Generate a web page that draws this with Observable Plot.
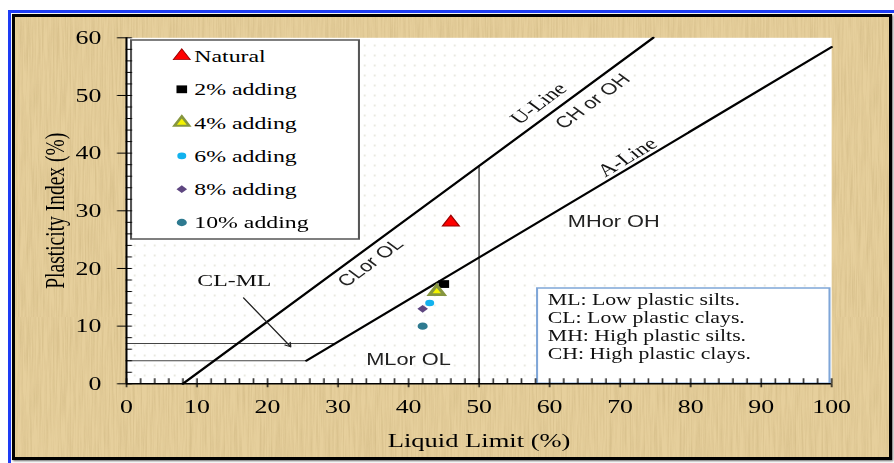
<!DOCTYPE html>
<html><head><meta charset="utf-8">
<script src="https://cdn.jsdelivr.net/npm/d3@7"></script>
<script src="https://cdn.jsdelivr.net/npm/@observablehq/plot@0.6"></script>
<style>
html,body{margin:0;padding:0;background:#fff;width:894px;height:463px;overflow:hidden;}
#blue{position:absolute;left:8px;top:10px;width:886px;height:453px;box-sizing:border-box;border-top:3px solid #1d3cf5;border-left:3px solid #1d3cf5;}
#frame{position:absolute;left:12px;top:14px;width:880px;height:446px;box-sizing:border-box;border:3px solid #000;background-color:#e6cf9c;box-shadow:1px 1px 2px rgba(0,0,0,.6);}
#stage{position:absolute;left:0;top:0;width:657px;height:463px;transform:scaleX(1.3607);transform-origin:0 0;}
</style></head><body>
<svg width="0" height="0" style="position:absolute"><defs>
<pattern id="dots" width="7.35" height="10" patternUnits="userSpaceOnUse"><circle cx="3" cy="5" r="0.75" fill="#d6d6c6"/></pattern>
</defs></svg>
<div id="blue"></div><div id="frame"></div><div id="stage"></div>
<script>
// ---- data ----
const seriesNames = ["Natural", "2% adding", "4% adding", "6% adding", "8% adding", "10% adding"];
const liquidLimit = [46, 45, 44, 43, 42, 42];
const plasticityIndex = [28, 17.3, 16, 14, 13, 10];
const seriesSymbols = ["triangle", "square", "triangle", "circle", "diamond2", "circle"];
const seriesFill = ["#ff0000", "#000000", "#f4f400", "#12b2ee", "#5e4680", "#2e7a90"];
const seriesStroke = ["#9a0000", "#000000", "#86963f", "#12b2ee", "#5e4680", "#2e7a90"];
const seriesStrokeWidth = [1, 0, 2.6, 0, 0, 0];
const seriesSize = [4.6, 4.4, 4.0, 3.3, 3.5, 3.7];

const uLineLL = [8, 74.7], uLinePI = [0, 60];
const aLineLL = [25.5, 100], aLinePI = [4, 58.4];
const bandPI = [4, 7], bandEndLL = [25.5, 29.6];
const boundaryLL = [50], boundaryTopPI = [37.8];
const arrowFrom = [16.6, 14.9], arrowTo = [23.3, 6.4];

const annText = ["U-Line", "A-Line", "CL-ML", "CH or OH", "CLor OL", "MHor OH", "MLor OL"];
const annLL = [58.4, 71.0, 15.3, 66.1, 34.6, 69.1, 40.0];
const annPI = [48.6, 39.3, 17.9, 49.0, 21.0, 28.0, 4.2];
const annAngle = [-45, -39, 0, -45, -45, 0, 0];
const annSerif = [true, true, true, false, false, false, false];

const xTicksMajor = [0, 10, 20, 30, 40, 50, 60, 70, 80, 90, 100];
const yTicksMajor = [0, 10, 20, 30, 40, 50, 60];
const infoLines = ["ML: Low plastic silts.", "CL: Low plastic clays.", "MH: High plastic silts.", "CH: High plastic clays."];

// ---- tables ----
const points = seriesNames.map((n, i) => ({name: n, LL: liquidLimit[i], PI: plasticityIndex[i],
  symbol: seriesSymbols[i], fill: seriesFill[i], stroke: seriesStroke[i], sw: seriesStrokeWidth[i], r: seriesSize[i]}));
const uLine = uLineLL.map((v, i) => ({LL: v, PI: uLinePI[i]}));
const aLine = aLineLL.map((v, i) => ({LL: v, PI: aLinePI[i]}));
const bands = bandPI.map((v, i) => ({PI: v, end: bandEndLL[i]}));
const boundary = boundaryLL.map((v, i) => ({LL: v, top: boundaryTopPI[i]}));
const ann = annText.map((t, i) => ({t, LL: annLL[i], PI: annPI[i], a: annAngle[i], serif: annSerif[i]}));
const xMinor = d3.range(0, 101, 2), yMinor = d3.range(0, 61, 2);

const serif = "'Liberation Serif','Times New Roman',serif";
const sans = "'Liberation Sans',Arial,sans-serif";

const chart = Plot.plot({
  width: 657, height: 463,
  marginLeft: 92.45, marginRight: 46.3, marginTop: 37.3, marginBottom: 79.7,
  x: {domain: [0, 100]},
  y: {domain: [0, 60]},
  r: {type: "identity"},
  style: {background: "transparent", fontFamily: serif, color: "#000", overflow: "visible"},
  marks: [
    Plot.frame({fill: "#fff", stroke: "none"}),
    Plot.frame({fill: "url(#dots)", stroke: "none"}),
    Plot.ruleY(bands, {y: "PI", x1: 0, x2: "end", stroke: "#444", strokeWidth: 1}),
    Plot.ruleX(boundary, {x: "LL", y1: 0, y2: "top", stroke: "#333", strokeWidth: 1}),
    Plot.line(uLine, {x: "LL", y: "PI", stroke: "#000", strokeWidth: 2}),
    Plot.line(aLine, {x: "LL", y: "PI", stroke: "#000", strokeWidth: 2}),
    Plot.arrow([{x1: arrowFrom[0], y1: arrowFrom[1], x2: arrowTo[0], y2: arrowTo[1]}],
      {x1: "x1", y1: "y1", x2: "x2", y2: "y2", stroke: "#222", strokeWidth: 1, headLength: 7}),
    Plot.text(ann.filter(d => d.serif), {x: "LL", y: "PI", text: "t", rotate: "a", fontFamily: serif, fontSize: 17.5, fill: "#111"}),
    Plot.text(ann.filter(d => !d.serif), {x: "LL", y: "PI", text: "t", rotate: "a", fontFamily: sans, fontSize: 16, fill: "#222"}),
    Plot.dot(points, {x: "LL", y: "PI", symbol: "symbol", fill: "fill", stroke: "stroke", strokeWidth: "sw", r: "r"}),
    Plot.ruleX([0], {stroke: "#000", strokeWidth: 1.5}),
    Plot.ruleY([0], {stroke: "#000", strokeWidth: 1.5}),
    Plot.axisX({ticks: xMinor, tickSize: -5, tickFormat: () => "", label: null, stroke: "#000"}),
    Plot.axisX({ticks: xTicksMajor, tickSize: 4, tickPadding: 12, fontSize: 19, label: "Liquid Limit (%)",
      labelAnchor: "center", labelArrow: "none", labelOffset: 63, stroke: "#000"}),
    Plot.axisY({ticks: yMinor, tickSize: -4.5, tickFormat: () => "", label: null, stroke: "#000"}),
    Plot.axisY({ticks: yTicksMajor, tickSize: 6.5, tickPadding: 12, fontSize: 19, label: "Plasticity Index (%)",
      labelAnchor: "center", labelArrow: "none", labelOffset: 60, stroke: "#000"})
  ]
});
document.getElementById("stage").appendChild(chart);

// ---- legend + info box, drawn into the svg above the plot background ----
const svg = d3.select(chart);
const frames = svg.selectAll("[aria-label=frame]").nodes();
const g = d3.create("svg:g").attr("font-family", serif).attr("text-anchor", "start");
frames[frames.length - 1].after(g.node());

const lg = {x0: 96.3, x1: 263.8, y0: 40, y1: 239, rowY: 56, step: 33.3, symX: 133.6, textX: 142.8};
g.append("rect").attr("x", lg.x0).attr("y", lg.y0).attr("width", lg.x1 - lg.x0).attr("height", lg.y1 - lg.y0)
  .attr("fill", "#fff").attr("stroke", "#555").attr("stroke-width", 1.5);
const symMap = {triangle: d3.symbolTriangle, square: d3.symbolSquare, circle: d3.symbolCircle, diamond2: d3.symbolDiamond2};
points.forEach((p, i) => {
  const y = lg.rowY + i * lg.step;
  g.append("path").attr("transform", `translate(${lg.symX},${y})`)
    .attr("d", d3.symbol(symMap[p.symbol], Math.PI * p.r ** 2)())
    .attr("fill", p.fill).attr("stroke", p.sw ? p.stroke : "none").attr("stroke-width", p.sw * 0.8);
  g.append("text").attr("x", lg.textX).attr("y", y).attr("dy", "0.34em").attr("text-anchor", "start")
    .attr("font-size", 17.5).attr("fill", "#000").text(p.name);
});

const ib = {x0: 394.7, x1: 609.6, y0: 288, y1: 383.3, textX: 402.6, firstY: 300, step: 17.8};
g.append("rect").attr("x", ib.x0).attr("y", ib.y0).attr("width", ib.x1 - ib.x0).attr("height", ib.y1 - ib.y0)
  .attr("fill", "#fff").attr("stroke", "#7fa6d8").attr("stroke-width", 1.5);
infoLines.forEach((t, i) => {
  g.append("text").attr("x", ib.textX).attr("y", ib.firstY + i * ib.step).attr("dy", "0.34em").attr("text-anchor", "start")
    .attr("font-size", 16).attr("fill", "#111").text(t);
});

svg.selectAll("[aria-label='x-axis label'], [aria-label='y-axis label']").attr("font-size", 19.5);

// ---- parchment texture ----
const tex = `<svg xmlns='http://www.w3.org/2000/svg' width='420' height='300'><filter id='n' x='0' y='0' width='100%' height='100%'><feTurbulence type='fractalNoise' baseFrequency='0.6 0.02' numOctaves='3' seed='7'/><feColorMatrix values='0 0 0 0 0.62  0 0 0 0 0.47  0 0 0 0 0.22  0 0 0 -1.1 0.72'/></filter><rect width='420' height='300' filter='url(#n)'/></svg>`;
document.getElementById("frame").style.backgroundImage = `url("data:image/svg+xml,${encodeURIComponent(tex)}")`;
</script>
</body></html>
